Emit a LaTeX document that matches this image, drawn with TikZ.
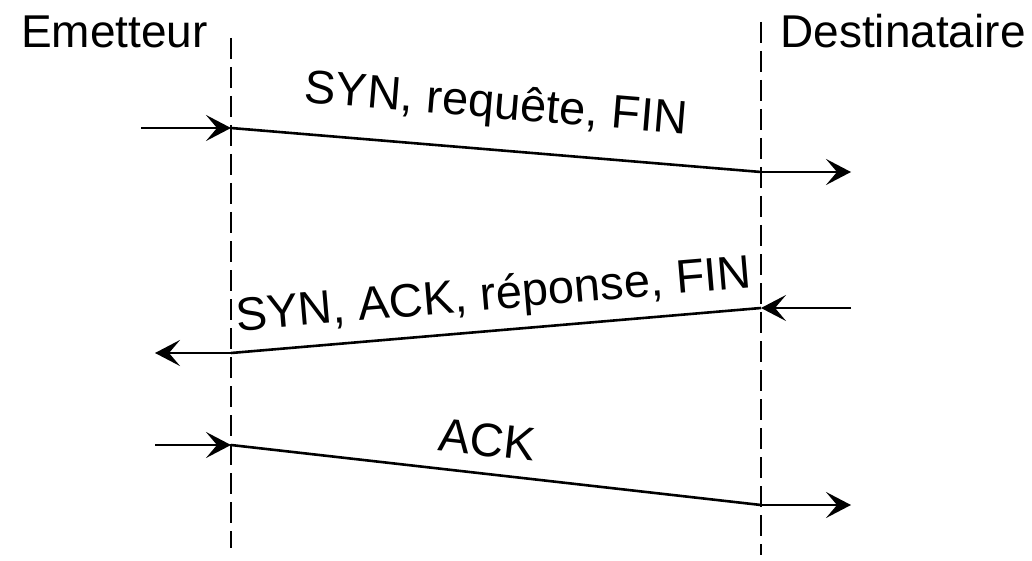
\documentclass[tikz,border=0pt]{standalone}
\usepackage{fontspec}
\setmainfont{Liberation Sans}
\usetikzlibrary{arrows.meta}
\begin{document}
\begin{tikzpicture}[x=1pt,y=-1pt,
  life/.style={line width=2.4pt, dash pattern=on 21pt off 8pt},
  msg/.style={line width=2.6pt},
  arr/.style={line width=2.6pt,-{Stealth[length=25pt,width=26pt,inset=11pt]}},
  lbl/.style={font=\fontsize{47}{56}\selectfont, inner sep=0pt},
  hdr/.style={font=\fontsize{46}{55}\selectfont, inner sep=0pt, anchor=base west}]
\useasboundingbox (0,0) rectangle (1032,561);
% lifelines
\coordinate (Ltop) at (231,38);  \coordinate (Lbot) at (231,548);
\coordinate (Rtop) at (761,22);  \coordinate (Rbot) at (761,555);
\draw[life] (Ltop) -- (Lbot);
\draw[life] (Rtop) -- (Rbot);
% headers
\node[hdr] (em) at (21,48) {Emetteur};
\node[hdr] (de) at (780,48) {Destinataire};
% message 1
\coordinate (a1) at (141,128); \coordinate (b1) at (231,128);
\coordinate (c1) at (761,172); \coordinate (d1) at (851,172);
\draw[arr] (a1) -- (b1);
\draw[msg] (b1) -- (c1);
\draw[arr] (c1) -- (d1);
\node[lbl, rotate=-4.75] (l1) at (496,106) {SYN, requête, FIN};
% message 2
\coordinate (a2) at (851,308); \coordinate (b2) at (761,308);
\coordinate (c2) at (231,353); \coordinate (d2) at (155,353);
\draw[arr] (a2) -- (b2);
\draw[msg] (b2) -- (c2);
\draw[arr] (c2) -- (d2);
\node[lbl, rotate=4.85] (l2) at (494,297) {SYN, ACK, réponse, FIN};
% message 3
\coordinate (a3) at (155,445); \coordinate (b3) at (231,445);
\coordinate (c3) at (761,505); \coordinate (d3) at (851,505);
\draw[arr] (a3) -- (b3);
\draw[msg] (b3) -- (c3);
\draw[arr] (c3) -- (d3);
\node[lbl, rotate=-6.46] (l3) at (487,440) {ACK};
\end{tikzpicture}
\end{document}
